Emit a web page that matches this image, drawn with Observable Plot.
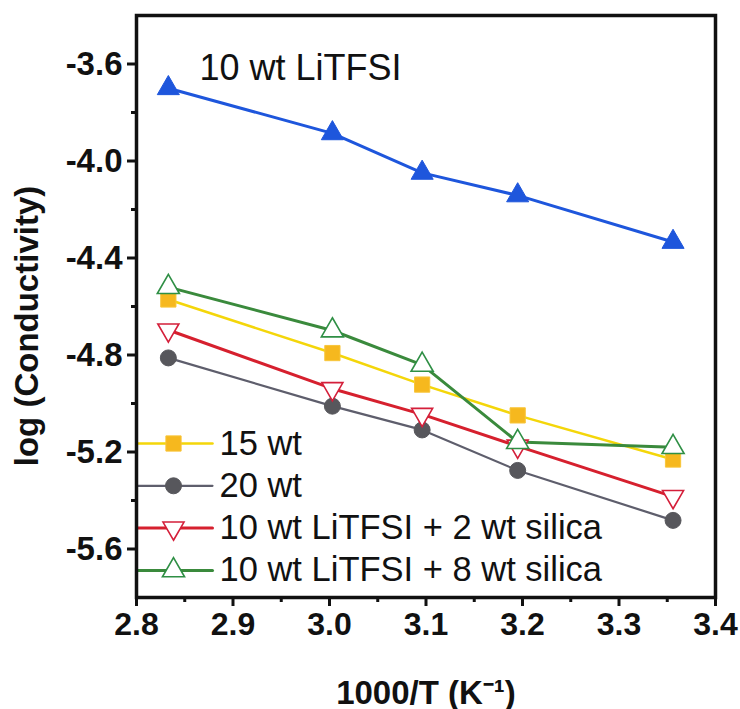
<!DOCTYPE html>
<html><head><meta charset="utf-8">
<script src="https://cdn.jsdelivr.net/npm/d3@7"></script>
<script src="https://cdn.jsdelivr.net/npm/@observablehq/plot@0.6"></script>
<style>body{margin:0;background:#fff;} svg{display:block;}</style>
</head><body><div id="chart"></div>
<script>
// ---- data ----
const invT = [2.833, 3.003, 3.096, 3.195, 3.356];            // 1000/T (K^-1)
const seriesNames = ["10 wt LiTFSI", "15 wt", "20 wt",
  "10 wt LiTFSI + 2 wt silica", "10 wt LiTFSI + 8 wt silica"];
const logSigma10wt   = [-3.700, -3.886, -4.049, -4.142, -4.334];
const logSigma15wt   = [-4.571, -4.792, -4.922, -5.049, -5.231];
const logSigma20wt   = [-4.812, -5.011, -5.109, -5.276, -5.482];
const logSigma2silica = [-4.697, -4.939, -5.045, -5.176, -5.384];
const logSigma8silica = [-4.520, -4.699, -4.841, -5.159, -5.180];
const xTicks = [2.8, 2.9, 3.0, 3.1, 3.2, 3.3, 3.4];
const xMinorTicks = [2.85, 2.95, 3.05, 3.15, 3.25, 3.35];
const yTicks = [-3.6, -4.0, -4.4, -4.8, -5.2, -5.6];
const yMinorTicks = [-3.8, -4.2, -4.6, -5.0, -5.4];
const legendOrder = [1, 2, 3, 4];
const annotationText = "10 wt LiTFSI";
const xTitle = "1000/T (K\u207B\u00B9)";
const yTitle = "log (Conductivity)";

// ---- styles ----
const triangleDown = {
  draw(context, size) {
    const y = -Math.sqrt(size / (3 * Math.sqrt(3)));
    context.moveTo(0, -2 * y);
    context.lineTo(-Math.sqrt(3) * y, y);
    context.lineTo(Math.sqrt(3) * y, y);
    context.closePath();
  }
};
const values = [logSigma10wt, logSigma15wt, logSigma20wt, logSigma2silica, logSigma8silica];
const styles = [
  {line: "#1e56dc", lw: 3,   symbol: "triangle", fill: "#1e56dc", stroke: "#1e56dc", r: 8.2, sw: 1},
  {line: "#f4d60a", lw: 2.5, symbol: "square",   fill: "#f6b81e", stroke: "#f8c53a", r: 8.6, sw: 1},
  {line: "#5e5e6c", lw: 2.2, symbol: "circle",   fill: "#57575c", stroke: "#57575c", r: 8,   sw: 1},
  {line: "#d6202e", lw: 3,   symbol: triangleDown, fill: "white", stroke: "#d41f3a", r: 7.8, sw: 1.6},
  {line: "#3a8a3c", lw: 3,   symbol: "triangle", fill: "white",  stroke: "#2f8f45", r: 8.2, sw: 1.6}
];

const rows = seriesNames.map((name, k) => invT.map((x, i) => ({name, x, y: values[k][i]})));

// plot geometry
const W = 740, H = 709, mL = 136, mR = 25, mT = 15, mB = 112;
const xDom = [2.8, 3.4], yDom = [-5.8, -3.4];
const pxX = (W - mL - mR) / (xDom[1] - xDom[0]);
const pxY = (H - mT - mB) / (yDom[1] - yDom[0]);
const fromPx = (px, py) => ({x: xDom[0] + (px - mL) / pxX, y: yDom[1] - (py - mT) / pxY});

const marks = [];
seriesNames.forEach((name, k) => {
  const s = styles[k];
  marks.push(Plot.line(rows[k], {x: "x", y: "y", stroke: s.line, strokeWidth: s.lw}));
});
seriesNames.forEach((name, k) => {
  const s = styles[k];
  marks.push(Plot.dot(rows[k], {x: "x", y: "y", symbol: () => s.symbol, r: s.r, fill: s.fill, stroke: s.stroke, strokeWidth: s.sw}));
});

// legend (inside plot, lower left)
legendOrder.forEach((k, i) => {
  const s = styles[k];
  const rowPy = 443 + i * 42.3;
  const a = fromPx(136.5, rowPy), b = fromPx(212, rowPy), m = fromPx(173, rowPy), t = fromPx(219, rowPy);
  marks.push(Plot.line([a, b], {x: "x", y: "y", stroke: s.line, strokeWidth: s.lw}));
  marks.push(Plot.dot([m], {x: "x", y: "y", symbol: () => s.symbol, r: s.r, fill: s.fill, stroke: s.stroke, strokeWidth: s.sw}));
  marks.push(Plot.text([seriesNames[k]], {x: () => t.x, y: () => t.y, text: d => d, textAnchor: "start", lineAnchor: "middle", fontSize: 34.5, fill: "#111"}));
});

// annotation for the blue series
const ann = fromPx(199, 79);
marks.push(Plot.text([annotationText], {x: () => ann.x, y: () => ann.y, text: d => d, textAnchor: "start", lineAnchor: "bottom", fontSize: 36, fill: "#111"}));

// axes
marks.push(Plot.axisX({ticks: xTicks, tickSize: 9, tickPadding: 6, tickFormat: d => d.toFixed(1), fontSize: 32, fontWeight: "bold", strokeWidth: 3, label: null}));
marks.push(Plot.axisX({ticks: xMinorTicks, tickSize: 5, tickFormat: () => "", strokeWidth: 3, label: null}));
marks.push(Plot.axisY({ticks: yTicks, tickSize: 9, tickPadding: 5, tickFormat: d => d.toFixed(1), fontSize: 33, fontWeight: "bold", strokeWidth: 3, label: null}));
marks.push(Plot.axisY({ticks: yMinorTicks, tickSize: 5, tickFormat: () => "", strokeWidth: 3, label: null}));
marks.push(Plot.frame({stroke: "#111", strokeWidth: 3.5}));

// axis titles
marks.push(Plot.text([xTitle], {text: d => d, frameAnchor: "bottom", dy: 106, textAnchor: "middle", lineAnchor: "bottom", fontSize: 33, fontWeight: "bold", fill: "#111"}));
marks.push(Plot.text([yTitle], {text: d => d, frameAnchor: "left", dx: -99, dy: 19.5, rotate: -90, textAnchor: "middle", lineAnchor: "bottom", fontSize: 33, fontWeight: "bold", fill: "#111"}));

const chart = Plot.plot({
  width: W, height: H,
  marginLeft: mL, marginRight: mR, marginTop: mT, marginBottom: mB,
  style: {fontFamily: "'Liberation Sans', Arial, sans-serif", color: "#111", background: "white", overflow: "visible"},
  x: {domain: xDom, label: null},
  y: {domain: yDom, label: null},
  marks
});
document.getElementById("chart").appendChild(chart);
</script>
</body></html>
